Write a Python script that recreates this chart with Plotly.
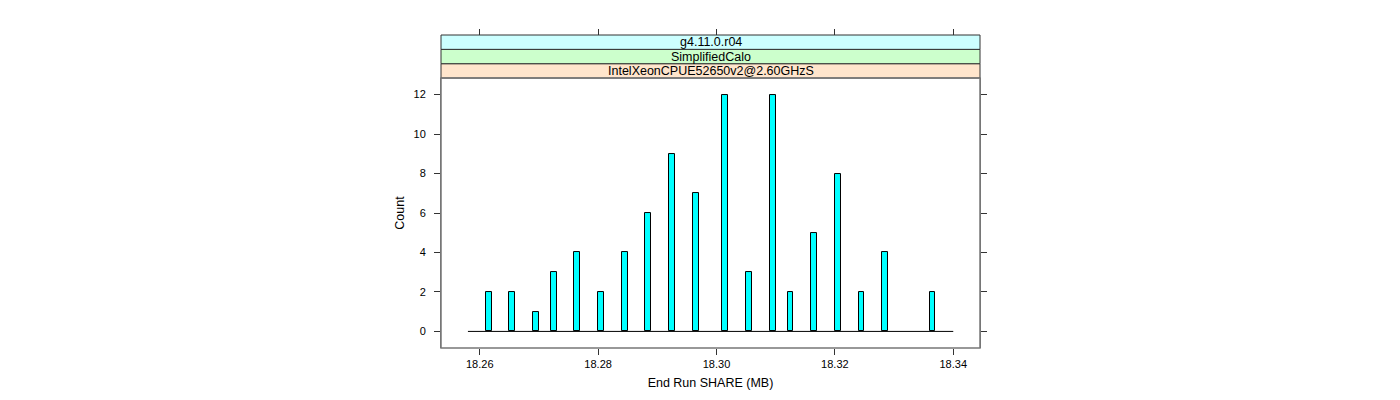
import plotly.graph_objects as go

# Data
bin_centers = [18.2615, 18.2655, 18.2695, 18.2725, 18.2765, 18.2805, 18.2845,
               18.2885, 18.2925, 18.2965, 18.3015, 18.3055, 18.3095, 18.3125,
               18.3165, 18.3205, 18.3245, 18.3285, 18.3365]
counts = [2, 2, 1, 3, 4, 2, 4, 6, 9, 7, 12, 3, 12, 2, 5, 8, 2, 4, 2]
bin_width = 0.001
breaks_range = [18.258, 18.340]
x_ticks = [18.26, 18.28, 18.30, 18.32, 18.34]
x_tick_labels = ["18.26", "18.28", "18.30", "18.32", "18.34"]
y_ticks = [0, 2, 4, 6, 8, 10, 12]
strip_labels = ["IntelXeonCPUE52650v2@2.60GHzS", "SimplifiedCalo", "g4.11.0.r04"]
strip_colors = ["#ffe5cc", "#ccffcc", "#ccffff"]

x_range = [18.25345, 18.34452]
y_range = [-0.84, 12.84]

FONT = "Liberation Sans, Arial, Helvetica, sans-serif"

# page body has an 8px margin
OFF = 8
total_h = 347.7 - 35
panel_frac = (347.7 - 78) / total_h
strip_h = (1 - panel_frac) / 3

fig = go.Figure()

# baseline of the histogram (zero-count bins)
fig.add_trace(go.Scatter(
    x=breaks_range, y=[0, 0], mode="lines",
    line=dict(color="black", width=1), hoverinfo="skip", showlegend=False,
))

fig.add_trace(go.Bar(
    x=bin_centers, y=counts, width=bin_width,
    marker=dict(color="#00ffff", line=dict(color="black", width=1)),
    showlegend=False,
))

# strips
for i, (lab, col) in enumerate(zip(strip_labels, strip_colors)):
    y0 = panel_frac + i * strip_h
    y1 = y0 + strip_h
    fig.add_shape(type="rect", xref="x domain", yref="paper",
                  x0=0, x1=1, y0=y0, y1=y1,
                  fillcolor=col, line=dict(color="#333333", width=1), layer="below")
    fig.add_annotation(xref="x domain", yref="paper", x=0.5, y=(y0 + y1) / 2,
                       text=lab, showarrow=False,
                       font=dict(family=FONT, size=12.5, color="black"),
                       xanchor="center", yanchor="middle")

# panel frame
fig.add_shape(type="rect", xref="x domain", yref="paper",
              x0=0, x1=1, y0=0, y1=panel_frac,
              line=dict(color="#777777", width=1.5), fillcolor="rgba(0,0,0,0)")

fig.update_layout(
    width=1400, height=400,
    margin=dict(l=440.7 - OFF, r=1400 - 980.3 + OFF, t=35 - OFF,
                b=400 - 347.7 + OFF, pad=0),
    paper_bgcolor="white", plot_bgcolor="white",
    bargap=0,
    font=dict(family=FONT, size=11, color="black"),
    xaxis=dict(
        range=x_range, tickvals=x_ticks, ticktext=x_tick_labels,
        ticks="outside", ticklen=6, tickcolor="#333333",
        showgrid=False, zeroline=False, showline=False,
        title=dict(text="End Run SHARE (MB)", font=dict(family=FONT, size=12.5), standoff=9),
        tickfont=dict(family=FONT, size=11),
    ),
    xaxis2=dict(
        range=x_range, tickvals=x_ticks, overlaying="x", side="top",
        anchor="free", position=1, ticks="outside", ticklen=6,
        tickcolor="#333333", showticklabels=False, showgrid=False,
        zeroline=False, showline=False,
    ),
    yaxis=dict(
        range=y_range, domain=[0, panel_frac], tickvals=y_ticks,
        ticks="outside", ticklen=6, tickcolor="#333333",
        mirror="ticks", showline=True, linecolor="#777777", linewidth=1,
        showgrid=False, zeroline=False,
        title=dict(text="Count", font=dict(family=FONT, size=12.5), standoff=6),
        tickfont=dict(family=FONT, size=11), ticklabelstandoff=6,
    ),
)

# dummy trace for the top axis so it renders
fig.add_trace(go.Scatter(x=[x_range[0]], y=[None], xaxis="x2", showlegend=False,
                         hoverinfo="skip"))

fig.write_html("out.html")
